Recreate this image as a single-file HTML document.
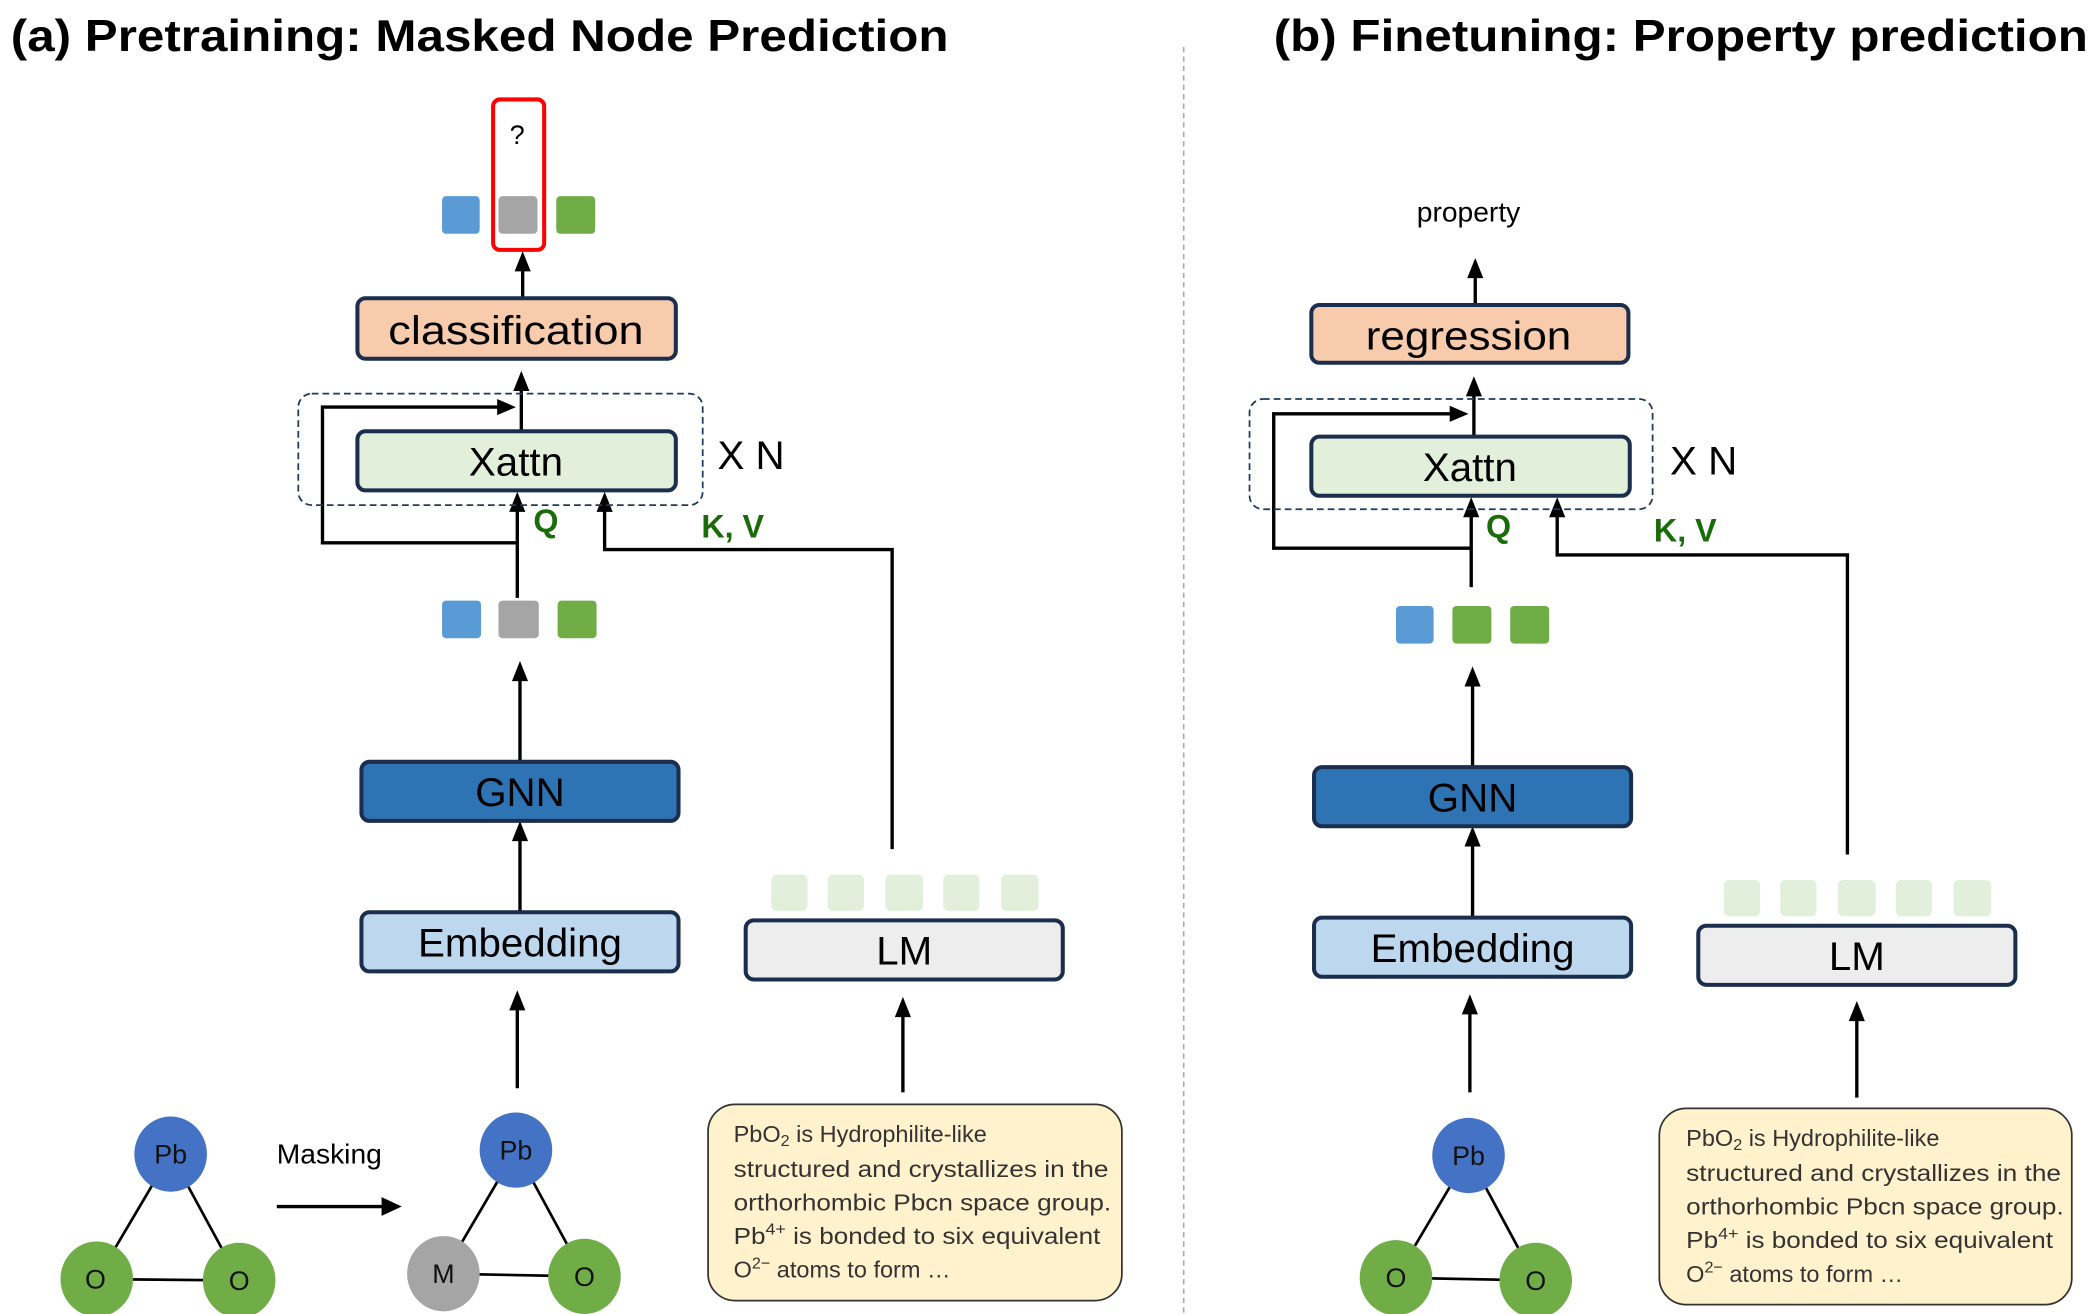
<!DOCTYPE html>
<html><head><meta charset="utf-8"><style>
html,body{margin:0;padding:0;background:#fff}
svg{display:block}
text{font-family:"Liberation Sans",sans-serif}
</style></head><body>
<svg width="2096" height="1314" viewBox="0 0 1560 978" xmlns="http://www.w3.org/2000/svg">
<text x="8" y="38" font-size="33" font-weight="bold" textLength="698" lengthAdjust="spacingAndGlyphs">(a) Pretraining: Masked Node Prediction</text>
<text x="948" y="38" font-size="33" font-weight="bold" textLength="606" lengthAdjust="spacingAndGlyphs">(b) Finetuning: Property prediction</text>
<line x1="881" y1="35" x2="881" y2="978" stroke="#aaa" stroke-width="1.2" stroke-dasharray="4,3"/>

<g stroke="#000" stroke-width="2.5" fill="none">
<line x1="389" y1="222" x2="389" y2="200"/>
<line x1="388" y1="321" x2="388" y2="290"/>
<polyline points="385,404 240,404 240,303 372,303"/>
<line x1="385" y1="445" x2="385" y2="380"/>
<polyline points="664,632 664,409 450,409 450,380"/>
<line x1="387" y1="567" x2="387" y2="505"/>
<line x1="387" y1="679" x2="387" y2="624"/>
<line x1="385" y1="810" x2="385" y2="750"/>
<line x1="672" y1="813" x2="672" y2="755"/>
<line x1="206" y1="898" x2="286" y2="898"/>
<line x1="1098" y1="227" x2="1098" y2="205"/>
<line x1="1097" y1="325" x2="1097" y2="294"/>
<polyline points="1095,408 948,408 948,308 1080,308"/>
<line x1="1095" y1="437" x2="1095" y2="384"/>
<polyline points="1375,636 1375,413 1159,413 1159,384"/>
<line x1="1096" y1="571" x2="1096" y2="509"/>
<line x1="1096" y1="683" x2="1096" y2="628"/>
<line x1="1094" y1="813" x2="1094" y2="753"/>
<line x1="1382" y1="817" x2="1382" y2="758"/>
</g>
<g fill="#000">
<polygon points="389,187 383,202 395,202"/>
<polygon points="388,276 382,291 394,291"/>
<polygon points="384,303 370,297 370,309"/>
<polygon points="385,366 379,381 391,381"/>
<polygon points="450,366 444,381 456,381"/>
<polygon points="387,492 381,507 393,507"/>
<polygon points="387,611 381,626 393,626"/>
<polygon points="385,737 379,752 391,752"/>
<polygon points="672,742 666,757 678,757"/>
<polygon points="299,898 284,891 284,905"/>
<polygon points="1098,192 1092,207 1104,207"/>
<polygon points="1097,280 1091,295 1103,295"/>
<polygon points="1093,308 1079,302 1079,314"/>
<polygon points="1095,370 1089,385 1101,385"/>
<polygon points="1159,370 1153,385 1165,385"/>
<polygon points="1096,496 1090,511 1102,511"/>
<polygon points="1096,615 1090,630 1102,630"/>
<polygon points="1094,740 1088,755 1100,755"/>
<polygon points="1382,745 1376,760 1388,760"/>
</g>

<rect x="222" y="293" width="301" height="83" rx="10" fill="none" stroke="#1f3a5f" stroke-width="1.3" stroke-dasharray="5,3"/>
<rect x="930" y="297" width="300" height="82" rx="10" fill="none" stroke="#1f3a5f" stroke-width="1.3" stroke-dasharray="5,3"/>

<g stroke="#1c2e4d" stroke-width="3">
<rect x="266" y="222" width="237" height="45" rx="6" fill="#f8cbad"/>
<rect x="266" y="321" width="237" height="44" rx="6" fill="#e2efda"/>
<rect x="269" y="567" width="236" height="44" rx="6" fill="#2e74b5"/>
<rect x="269" y="679" width="236" height="44" rx="6" fill="#bdd7ee"/>
<rect x="555" y="685" width="236" height="44" rx="6" fill="#ededed"/>
<rect x="976" y="227" width="236" height="43" rx="6" fill="#f8cbad"/>
<rect x="976" y="325" width="237" height="44" rx="6" fill="#e2efda"/>
<rect x="978" y="571" width="236" height="44" rx="6" fill="#2e74b5"/>
<rect x="978" y="683" width="236" height="44" rx="6" fill="#bdd7ee"/>
<rect x="1264" y="689" width="236" height="44" rx="6" fill="#ededed"/>
</g>
<g font-size="30" text-anchor="middle" fill="#000">
<text x="384" y="256" textLength="190" lengthAdjust="spacingAndGlyphs">classification</text>
<text x="384" y="354">Xattn</text>
<text x="387" y="600">GNN</text>
<text x="387" y="712">Embedding</text>
<text x="673" y="718">LM</text>
<text x="1093" y="260" textLength="153" lengthAdjust="spacingAndGlyphs">regression</text>
<text x="1094" y="358">Xattn</text>
<text x="1096" y="604">GNN</text>
<text x="1096" y="716">Embedding</text>
<text x="1382" y="722">LM</text>
<text x="559" y="349">X N</text>
<text x="1268" y="353">X N</text>
</g>
<g font-size="24" fill="#1a6b0a" font-weight="600">
<text x="397" y="396">Q</text>
<text x="522" y="400">K, V</text>
<text x="1106" y="400">Q</text>
<text x="1231" y="403">K, V</text>
</g>
<text x="1093" y="165" font-size="21" text-anchor="middle">property</text>

<rect x="367" y="74" width="38" height="112" rx="5" fill="none" stroke="#f00" stroke-width="3"/>
<text x="385" y="107" font-size="20" text-anchor="middle">?</text>
<rect x="329" y="146" width="28" height="28" rx="3" fill="#5b9bd5"/>
<rect x="371" y="146" width="29" height="28" rx="3" fill="#a5a5a5"/>
<rect x="414" y="146" width="29" height="28" rx="3" fill="#70ad47"/>
<rect x="329" y="447" width="29" height="28" rx="3" fill="#5b9bd5"/>
<rect x="371" y="447" width="30" height="28" rx="3" fill="#a5a5a5"/>
<rect x="415" y="447" width="29" height="28" rx="3" fill="#70ad47"/>
<rect x="1039" y="451" width="28" height="28" rx="3" fill="#5b9bd5"/>
<rect x="1081" y="451" width="29" height="28" rx="3" fill="#70ad47"/>
<rect x="1124" y="451" width="29" height="28" rx="3" fill="#70ad47"/>
<g fill="#e2efda">
<rect x="574" y="651" width="27" height="27" rx="4"/><rect x="616" y="651" width="27" height="27" rx="4"/><rect x="659" y="651" width="28" height="27" rx="4"/><rect x="702" y="651" width="27" height="27" rx="4"/><rect x="745" y="651" width="28" height="27" rx="4"/>
<rect x="1283" y="655" width="27" height="27" rx="4"/><rect x="1325" y="655" width="27" height="27" rx="4"/><rect x="1368" y="655" width="28" height="27" rx="4"/><rect x="1411" y="655" width="27" height="27" rx="4"/><rect x="1454" y="655" width="28" height="27" rx="4"/>
</g>

<g fill="#fff2cc" stroke="#333" stroke-width="1.3">
<rect x="527" y="822" width="308" height="146" rx="20"/>
<rect x="1235" y="825" width="307" height="146" rx="20"/>
</g>
<g font-size="17.5" fill="#333">
<text x="546" y="850">PbO<tspan font-size="12" dy="3">2</tspan><tspan dy="-3"> is Hydrophilite-like</tspan></text>
<text x="546" y="876" textLength="279" lengthAdjust="spacingAndGlyphs">structured and crystallizes in the</text>
<text x="546" y="901" textLength="281" lengthAdjust="spacingAndGlyphs">orthorhombic Pbcn space group.</text>
<text x="546" y="926" textLength="273" lengthAdjust="spacingAndGlyphs">Pb<tspan font-size="12" dy="-7">4+</tspan><tspan dy="7"> is bonded to six equivalent</tspan></text>
<text x="546" y="951">O<tspan font-size="12" dy="-7">2−</tspan><tspan dy="7"> atoms to form …</tspan></text>
<text x="1255" y="853">PbO<tspan font-size="12" dy="3">2</tspan><tspan dy="-3"> is Hydrophilite-like</tspan></text>
<text x="1255" y="879" textLength="279" lengthAdjust="spacingAndGlyphs">structured and crystallizes in the</text>
<text x="1255" y="904" textLength="281" lengthAdjust="spacingAndGlyphs">orthorhombic Pbcn space group.</text>
<text x="1255" y="929" textLength="273" lengthAdjust="spacingAndGlyphs">Pb<tspan font-size="12" dy="-7">4+</tspan><tspan dy="7"> is bonded to six equivalent</tspan></text>
<text x="1255" y="954">O<tspan font-size="12" dy="-7">2−</tspan><tspan dy="7"> atoms to form …</tspan></text>
</g>

<g stroke="#000" stroke-width="2">
<line x1="127" y1="859" x2="72" y2="952"/><line x1="127" y1="859" x2="178" y2="953"/><line x1="72" y1="952" x2="178" y2="953"/>
<line x1="384" y1="856" x2="330" y2="948"/><line x1="384" y1="856" x2="435" y2="950"/><line x1="330" y1="948" x2="435" y2="950"/>
<line x1="1093" y1="860" x2="1039" y2="951"/><line x1="1093" y1="860" x2="1143" y2="953"/><line x1="1039" y1="951" x2="1143" y2="953"/>
</g>
<ellipse cx="127" cy="859" rx="27" ry="28" fill="#4472c4"/>
<ellipse cx="72" cy="952" rx="27" ry="28" fill="#70ad47"/>
<ellipse cx="178" cy="953" rx="27" ry="28" fill="#70ad47"/>
<ellipse cx="384" cy="856" rx="27" ry="28" fill="#4472c4"/>
<ellipse cx="330" cy="948" rx="27" ry="28" fill="#a5a5a5"/>
<ellipse cx="435" cy="950" rx="27" ry="28" fill="#70ad47"/>
<ellipse cx="1093" cy="860" rx="27" ry="28" fill="#4472c4"/>
<ellipse cx="1039" cy="951" rx="27" ry="28" fill="#70ad47"/>
<ellipse cx="1143" cy="953" rx="27" ry="28" fill="#70ad47"/>
<g font-size="20" text-anchor="middle" fill="#111">
<text x="127" y="866">Pb</text><text x="71" y="959">O</text><text x="178" y="960">O</text>
<text x="384" y="863">Pb</text><text x="330" y="955">M</text><text x="435" y="957">O</text>
<text x="1093" y="867">Pb</text><text x="1039" y="958">O</text><text x="1143" y="960">O</text>
</g>
<text x="206" y="866" font-size="21">Masking</text>
</svg>
</body></html>
